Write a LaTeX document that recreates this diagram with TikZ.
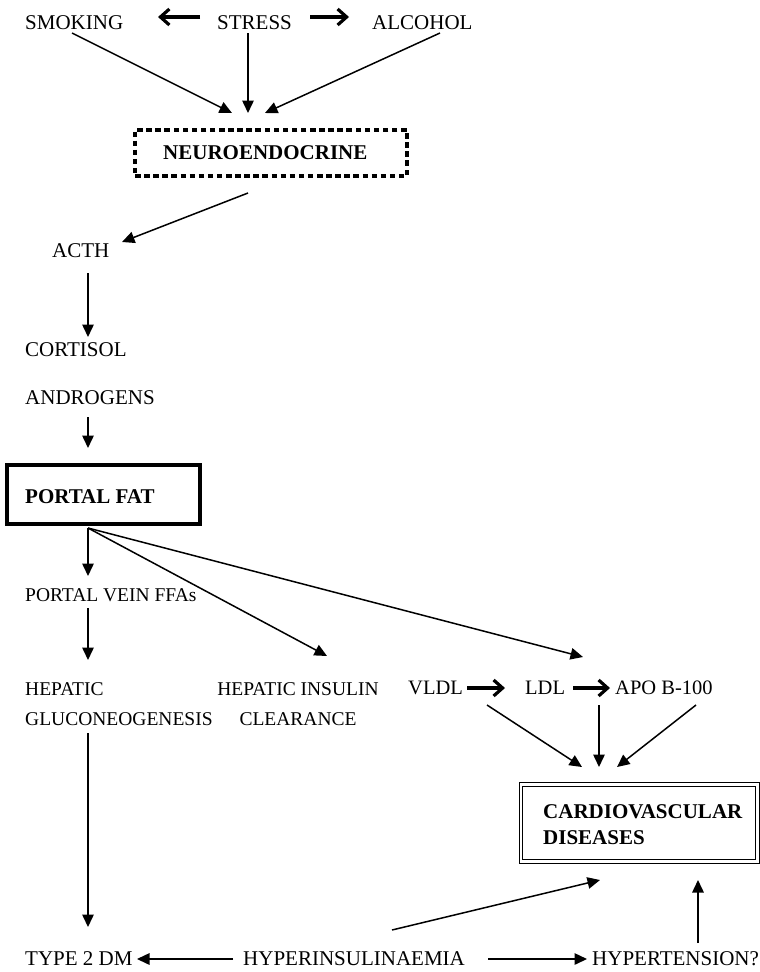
\documentclass[tikz,border=0pt]{standalone}
\usepackage{fontspec}
\setmainfont{Liberation Serif}
\usetikzlibrary{arrows.meta}
\begin{document}
\begin{tikzpicture}[x=1pt,y=-1pt,
  lbl/.style={inner sep=0pt,anchor=base west,font=\fontsize{21}{26}\selectfont},
  lblm/.style={inner sep=0pt,anchor=base west,font=\fontsize{19.5}{24}\selectfont},
  blbl/.style={inner sep=0pt,anchor=base west,font=\fontsize{21}{26}\selectfont\bfseries},
  arr/.style={line width=1.5pt,-{Triangle[length=12.5pt,width=11.5pt]}},
  barb/.style={line width=3.2pt,-{Straight Barb[length=9pt,width=16pt,line width=3.2pt]}},
  dashbox/.style={draw,line width=3.5pt,dash pattern=on 5.5pt off 3.6pt,inner sep=0pt},
  thickbox/.style={draw,line width=4.5pt,inner sep=0pt},
  dblbox/.style={draw,line width=1pt,double,double distance=2.2pt,inner sep=0pt}
]
\useasboundingbox (0,0) rectangle (760,972);

% top row
\node[lbl] (smoking) at (25,29) {SMOKING};
\node[lbl] (stress) at (217,29) {STRESS};
\node[lbl] (alcohol) at (372,29) {ALCOHOL};
\coordinate (stressL) at (200,17);
\coordinate (smokingR) at (158,17);
\coordinate (stressR) at (310,17);
\coordinate (alcoholL) at (349,17);
\draw[barb] (stressL) -- (smokingR);
\draw[barb] (stressR) -- (alcoholL);

% neuroendocrine
\node[dashbox,minimum width=272pt,minimum height=46pt] (neurobox) at (271,153) {};
\node[blbl] (neuro) at (163,159) {NEUROENDOCRINE};
\coordinate (smokingOut) at (72,33);
\coordinate (stressOut) at (248,33);
\coordinate (alcoholOut) at (440,33);
\coordinate (neuroInA) at (232,113);
\coordinate (neuroInB) at (248,113);
\coordinate (neuroInC) at (265,113);
\draw[arr] (smokingOut) -- (neuroInA);
\draw[arr] (stressOut) -- (neuroInB);
\draw[arr] (alcoholOut) -- (neuroInC);

% ACTH, cortisol, androgens
\node[lbl] (acth) at (52,257) {ACTH};
\node[lbl] (cortisol) at (25,356) {CORTISOL};
\node[lbl] (androgens) at (25,404) {ANDROGENS};
\coordinate (neuroOut) at (248,193);
\coordinate (acthIn) at (122,242);
\draw[arr] (neuroOut) -- (acthIn);
\coordinate (acthOut) at (88,273);
\coordinate (cortisolIn) at (88,337);
\draw[arr] (acthOut) -- (cortisolIn);
\coordinate (androgensOut) at (88,417);
\coordinate (portalIn) at (88,448);
\draw[arr] (androgensOut) -- (portalIn);

% portal fat
\node[thickbox,minimum width=193pt,minimum height=59pt] (portalbox) at (103.5,494.5) {};
\node[blbl] (portal) at (25,503) {PORTAL FAT};
\coordinate (portalOut) at (88,528);

% middle level
\node[lblm] (pvffa) at (25,601) {PORTAL VEIN FFAs};
\node[lblm,anchor=north west,align=left,font=\fontsize{19.5}{30}\selectfont] (gluco) at (25,682.1) {HEPATIC\\GLUCONEOGENESIS};
\node[lblm,anchor=north,align=center,font=\fontsize{19.5}{30}\selectfont] (insulin) at (298,682.1) {HEPATIC INSULIN\\CLEARANCE};
\node[lbl,font=\fontsize{20.5}{25}\selectfont] (vldl) at (408,694) {VLDL};
\node[lbl,font=\fontsize{20.5}{25}\selectfont] (ldl) at (525,694) {LDL};
\node[lbl,font=\fontsize{20.5}{25}\selectfont] (apo) at (615,694) {APO B-100};

\coordinate (pvffaIn) at (88,576);
\coordinate (insulinIn) at (327,656);
\coordinate (lipidIn) at (583,657);
\draw[arr] (portalOut) -- (pvffaIn);
\draw[arr] (portalOut) -- (insulinIn);
\draw[arr] (portalOut) -- (lipidIn);
\coordinate (pvffaOut) at (88,608);
\coordinate (glucoIn) at (88,660);
\draw[arr] (pvffaOut) -- (glucoIn);

\coordinate (vldlR) at (467,688);
\coordinate (ldlL) at (505,688);
\coordinate (ldlR) at (573,688);
\coordinate (apoL) at (610,688);
\draw[barb] (vldlR) -- (ldlL);
\draw[barb] (ldlR) -- (apoL);

% cardiovascular diseases
\node[dblbox,minimum width=236.5pt,minimum height=77pt] (cvdbox) at (639.25,823) {};
\node[blbl] (cvd1) at (543,818) {CARDIOVASCULAR};
\node[blbl] (cvd2) at (543,844) {DISEASES};
\coordinate (vldlOut) at (487,705);
\coordinate (ldlOut) at (599,705);
\coordinate (apoOut) at (696,705);
\coordinate (cvdInA) at (582,767);
\coordinate (cvdInB) at (599,767);
\coordinate (cvdInC) at (617,767);
\draw[arr] (vldlOut) -- (cvdInA);
\draw[arr] (ldlOut) -- (cvdInB);
\draw[arr] (apoOut) -- (cvdInC);

% bottom row
\node[lbl] (t2dm) at (25,965) {TYPE 2 DM};
\node[lbl] (hyper) at (243,965) {HYPERINSULINAEMIA};
\node[lbl] (htn) at (592,965) {HYPERTENSION?};
\coordinate (glucoOut) at (88,733);
\coordinate (t2dmIn) at (88,927);
\draw[arr] (glucoOut) -- (t2dmIn);
\coordinate (hyperL) at (233,959);
\coordinate (t2dmR) at (137,959);
\draw[arr] (hyperL) -- (t2dmR);
\coordinate (hyperR) at (488,959);
\coordinate (htnL) at (587,959);
\draw[arr] (hyperR) -- (htnL);
\coordinate (hyperUp) at (392,930);
\coordinate (cvdInD) at (600,880);
\draw[arr] (hyperUp) -- (cvdInD);
\coordinate (htnUp) at (698,943);
\coordinate (cvdInE) at (698,880);
\draw[arr] (htnUp) -- (cvdInE);
\end{tikzpicture}
\end{document}
